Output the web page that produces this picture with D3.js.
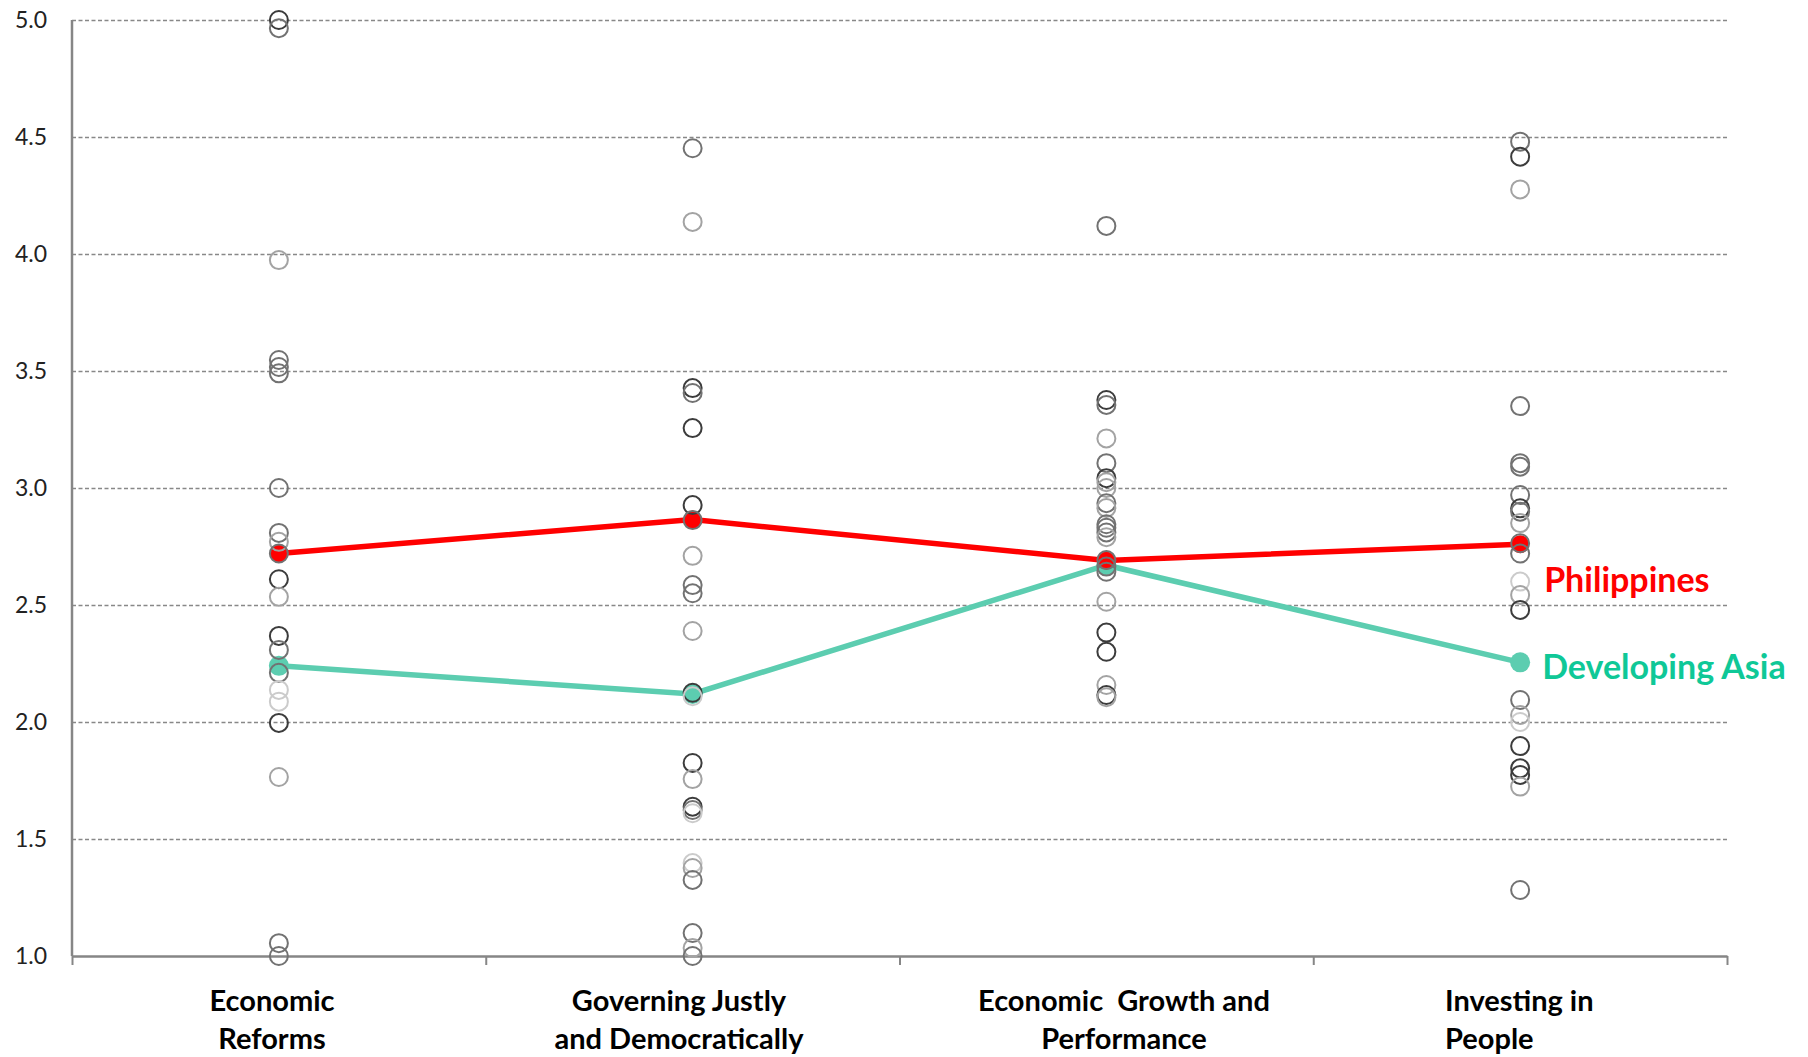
<!DOCTYPE html>
<html>
<head>
<meta charset="utf-8">
<script src="https://cdn.jsdelivr.net/npm/d3@7"></script>
<style>
  body { margin: 0; background: #fff; }
  svg { display: block; font-family: Lato, "Open Sans", sans-serif; }
</style>
</head>
<body>
<div id="chart"></div>
<script>
// categories along the x axis
var categories = ["Economic Reforms", "Governing Justly and Democratically",
                  "Economic Growth and Performance", "Investing in People"];
var categoryLines = [["Economic", "Reforms"], ["Governing Justly", "and Democratically"],
                     ["Economic  Growth and", "Performance"], ["Investing in", "People"]];

// country scores per category
var econReforms = [5.0, 4.965, 3.974, 3.547, 3.517, 3.49, 3.0, 2.808, 2.77, 2.72, 2.61, 2.535,
                   2.368, 2.308, 2.21, 2.137, 2.087, 1.996, 1.765, 1.055, 1.0];
var econReformsGrp = [0, 1, 2, 1, 1, 1, 1, 1, 2, 1, 0, 2, 0, 1, 1, 3, 3, 0, 2, 1, 1];

var governing = [4.452, 4.137, 3.427, 3.406, 3.256, 2.927, 2.863, 2.71, 2.585, 2.55, 2.389, 2.125,
                 2.11, 1.825, 1.756, 1.638, 1.624, 1.61, 1.397, 1.376, 1.325, 1.098, 1.034, 1.0];
var governingGrp = [1, 2, 0, 1, 0, 0, 1, 2, 1, 1, 2, 0, 3, 0, 2, 0, 1, 3, 3, 2, 1, 1, 2, 1];

var growth = [4.12, 3.376, 3.355, 3.212, 3.106, 3.042, 3.025, 3.0, 2.935, 2.915, 2.845, 2.83,
              2.81, 2.79, 2.692, 2.664, 2.642, 2.514, 2.382, 2.30, 2.158, 2.115, 2.106];
var growthGrp = [1, 0, 1, 2, 1, 0, 2, 2, 1, 2, 1, 1, 1, 2, 1, 1, 1, 2, 0, 0, 2, 0, 2];

var people = [4.48, 4.416, 4.276, 3.35, 3.106, 3.091, 2.97, 2.913, 2.899, 2.85, 2.764, 2.72,
              2.60, 2.543, 2.479, 2.094, 2.03, 2.0, 1.897, 1.802, 1.774, 1.724, 1.282];
var peopleGrp = [1, 0, 2, 1, 1, 1, 1, 0, 1, 2, 1, 1, 3, 2, 0, 1, 2, 3, 0, 0, 0, 2, 1];

// highlighted series
var philippines = [2.72, 2.865, 2.69, 2.76];
var devAsia = [2.24, 2.12, 2.67, 2.255];

var yTicks = [1.0, 1.5, 2.0, 2.5, 3.0, 3.5, 4.0, 4.5, 5.0];

var allScores = [econReforms, governing, growth, people];
var allGroups = [econReformsGrp, governingGrp, growthGrp, peopleGrp];

var W = 1808, H = 1057;
var margin = {top: 20, right: 81, bottom: 101, left: 72};

var svg = d3.select("#chart").append("svg")
    .attr("width", W)
    .attr("height", H);

var x = d3.scaleBand().domain(categories).range([margin.left, W - margin.right]);
var xTick = d3.scaleLinear().domain([0, categories.length]).range([margin.left, W - margin.right]);
var y = d3.scaleLinear().domain([1, 5]).range([H - margin.bottom, margin.top]);
var cx = function(c) { return x(c) + x.bandwidth() / 2; };

var shade = d3.scaleOrdinal().domain([0, 1, 2, 3])
    .range(["#3c3c3c", "#727272", "#a3a3a3", "#cbcbcb"]);

// gridlines + y labels
var yAxis = svg.append("g")
    .attr("transform", "translate(" + margin.left + ",0)")
    .call(d3.axisLeft(y)
      .tickValues(yTicks)
      .tickFormat(d3.format(".1f"))
      .tickSize(-(W - margin.left - margin.right))
      .tickPadding(25));
yAxis.select(".domain").remove();
yAxis.selectAll(".tick line")
    .attr("stroke", "#888")
    .attr("stroke-width", 1.4)
    .attr("stroke-dasharray", "4,2.5")
    .filter(function(d) { return d === 1; }).remove();
yAxis.selectAll(".tick text")
    .attr("fill", "#222")
    .style("font-size", "23px")
    .style("font-family", "Lato, sans-serif");

// left axis line
svg.append("line")
    .attr("x1", margin.left).attr("x2", margin.left)
    .attr("y1", y(5)).attr("y2", y(1))
    .attr("stroke", "#868686").attr("stroke-width", 2.5);

// bottom axis with ticks at band edges
var xAxis = svg.append("g")
    .attr("transform", "translate(0," + y(1) + ")")
    .call(d3.axisBottom(xTick)
      .tickValues(d3.range(categories.length + 1))
      .tickFormat("")
      .tickSize(9)
      .tickSizeOuter(0));
xAxis.select(".domain").attr("stroke", "#868686").attr("stroke-width", 2.5);
xAxis.selectAll(".tick line").attr("stroke", "#868686").attr("stroke-width", 2);

// category labels
var labelX = [272, 679, 1124, 1445];
var labelAnchor = ["middle", "middle", "middle", "start"];
categoryLines.forEach(function(lines, i) {
  var t = svg.append("text")
      .attr("text-anchor", labelAnchor[i])
      .attr("font-weight", "bold")
      .style("font-size", "29px")
      .attr("fill", "#000");
  lines.forEach(function(s, j) {
    t.append("tspan")
      .attr("x", labelX[i])
      .attr("y", 1011 + j * 38)
      .attr("xml:space", "preserve")
      .text(s);
  });
});

// series lines
var line = d3.line()
    .x(function(d, i) { return cx(categories[i]); })
    .y(function(d) { return y(d); });

svg.append("path")
    .datum(devAsia)
    .attr("fill", "none")
    .attr("stroke", "#5ccdb0")
    .attr("stroke-width", 5.5)
    .attr("d", line);

svg.append("path")
    .datum(philippines)
    .attr("fill", "none")
    .attr("stroke", "#ff0000")
    .attr("stroke-width", 5.5)
    .attr("d", line);

svg.selectAll(".dev-dot")
    .data(devAsia)
    .enter().append("circle")
    .attr("class", "dev-dot")
    .attr("cx", function(d, i) { return cx(categories[i]); })
    .attr("cy", function(d) { return y(d); })
    .attr("r", 10)
    .attr("fill", "#5ccdb0");

svg.selectAll(".ph-dot")
    .data(philippines)
    .enter().append("circle")
    .attr("class", "ph-dot")
    .attr("cx", function(d, i) { return cx(categories[i]); })
    .attr("cy", function(d) { return y(d); })
    .attr("r", 9)
    .attr("fill", "#ff0000");

// country circles
var pts = [];
allScores.forEach(function(arr, i) {
  arr.forEach(function(v, j) {
    pts.push({cat: categories[i], v: v, g: allGroups[i][j]});
  });
});

svg.selectAll(".country")
    .data(pts)
    .enter().append("circle")
    .attr("class", "country")
    .attr("cx", function(d) { return cx(d.cat); })
    .attr("cy", function(d) { return y(d.v); })
    .attr("r", 9)
    .attr("fill", "none")
    .attr("stroke", function(d) { return shade(d.g); })
    .attr("stroke-width", 2);

// series labels
var last = categories[categories.length - 1];
svg.append("text")
    .attr("x", cx(last) + 24)
    .attr("y", y(philippines[3]) + 48)
    .attr("font-weight", "bold")
    .style("font-size", "34px")
    .attr("fill", "#ff0000")
    .text("Philippines");

svg.append("text")
    .attr("x", cx(last) + 22)
    .attr("y", y(devAsia[3]) + 17)
    .attr("font-weight", "bold")
    .style("font-size", "34px")
    .attr("fill", "#0fc897")
    .text("Developing Asia");
</script>
</body>
</html>
